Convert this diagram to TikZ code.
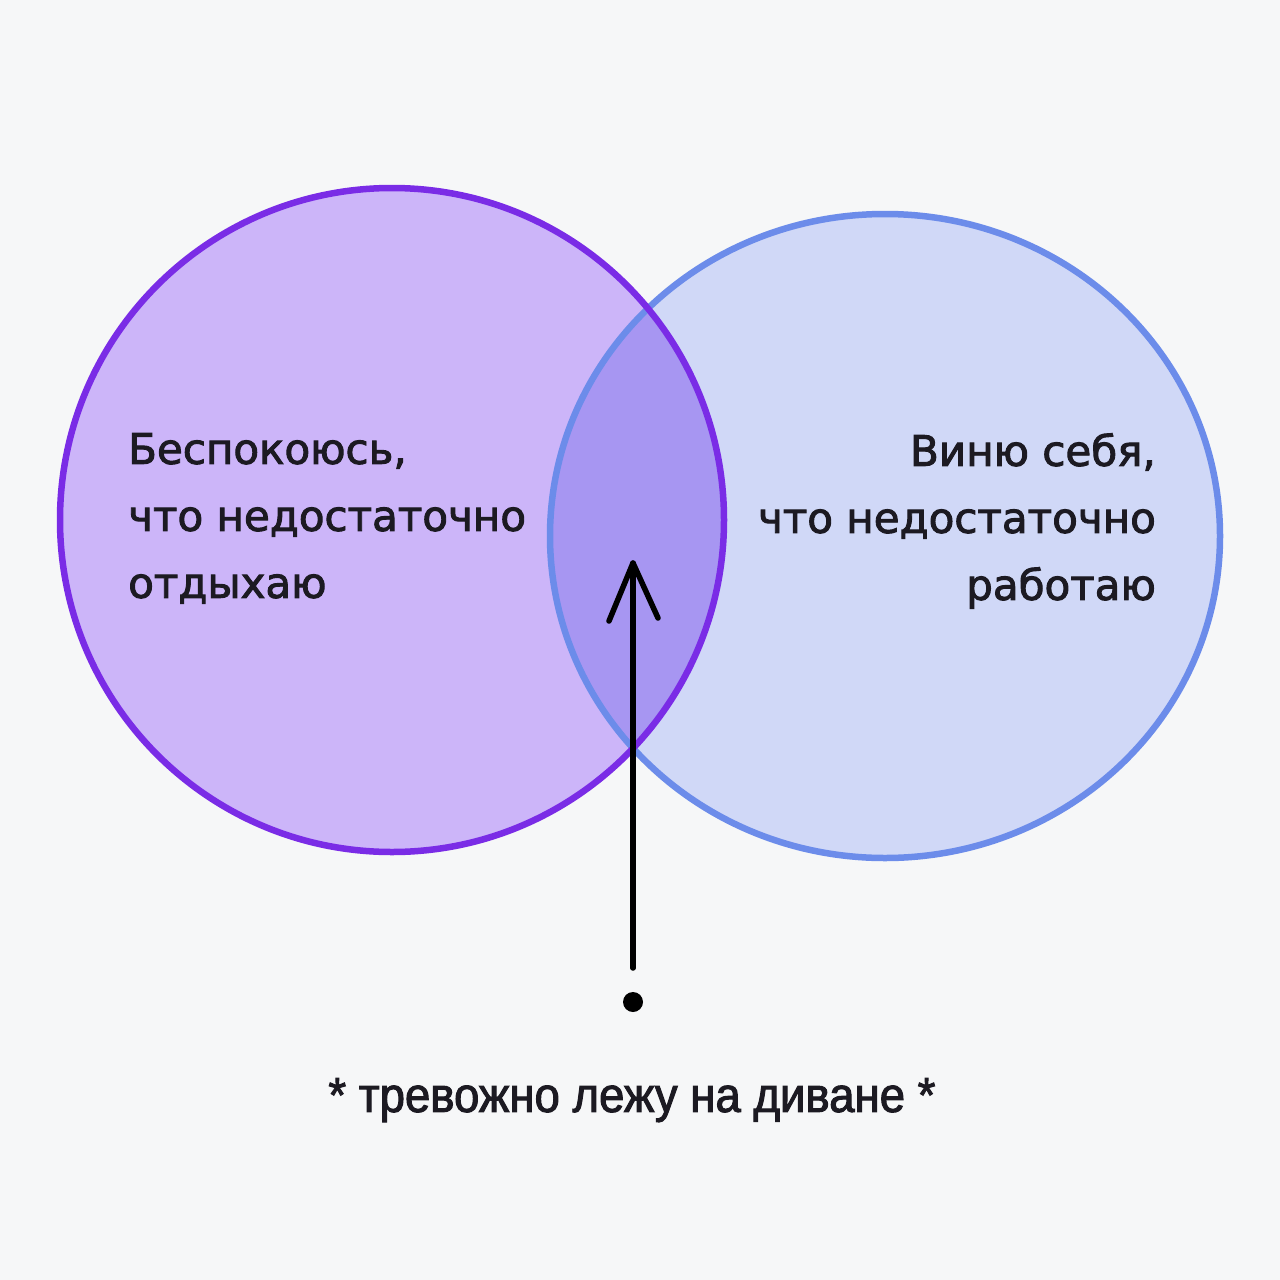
\documentclass[tikz,border=0pt]{standalone}
\usepackage{fontspec}
\setmainfont{Liberation Sans}
\newfontfamily\labelfont[FakeBold=2.2]{DejaVu Sans}
\newfontfamily\notefont[FakeBold=2,FakeStretch=0.93]{Liberation Sans}
\definecolor{bg}{HTML}{F6F7F8}
\definecolor{leftfill}{HTML}{CCB5F9}
\definecolor{leftline}{HTML}{7A2CE6}
\definecolor{rightfill}{HTML}{D0D8F7}
\definecolor{rightline}{HTML}{6C8CEA}
\definecolor{midfill}{HTML}{A796F2}
\definecolor{ink}{HTML}{1C1A22}
\tikzset{
  lbl/.style={inner sep=0pt, text=ink, font=\labelfont\fontsize{42}{67}\selectfont},
  note/.style={inner sep=0pt, text=ink, font=\notefont\fontsize{49}{60}\selectfont},
  pen/.style={draw=black, line width=5.5pt, line cap=round, line join=round}
}
\begin{document}
\begin{tikzpicture}[x=1pt,y=-1pt]
\fill[bg] (0,0) rectangle (1280,1280);
\useasboundingbox (0,0) rectangle (1280,1280);
% fills
\fill[leftfill] (392,520) circle[radius=332];
\fill[rightfill] (885,536) ellipse[x radius=335, y radius=322];
\begin{scope}
  \clip (392,520) circle[radius=332];
  \fill[midfill] (885,536) ellipse[x radius=335, y radius=322];
\end{scope}
% outlines
\draw[rightline, line width=6.5pt] (885,536) ellipse[x radius=335, y radius=322];
\draw[leftline, line width=6.5pt] (392,520) circle[radius=332];
% labels
\node[lbl, align=left, anchor=north west] (lt) at (128,433) {Беспокоюсь,\\что недостаточно\\отдыхаю};
\node[lbl, align=right, anchor=north east] (rt) at (1156,433) {Виню себя,\\что недостаточно\\работаю};
% arrow
\coordinate (tail) at (633,968);
\coordinate (tip) at (633,563);
\coordinate (armL) at (609,621);
\coordinate (armR) at (658,618);
\draw[pen] (tail) -- (tip);
\draw[pen] (armL) -- (tip) -- (armR);
\fill[black] (633,1002) circle[radius=10];
\node[note, anchor=north] (bt) at (632,1078) {* тревожно лежу на диване *};
\end{tikzpicture}
\end{document}
